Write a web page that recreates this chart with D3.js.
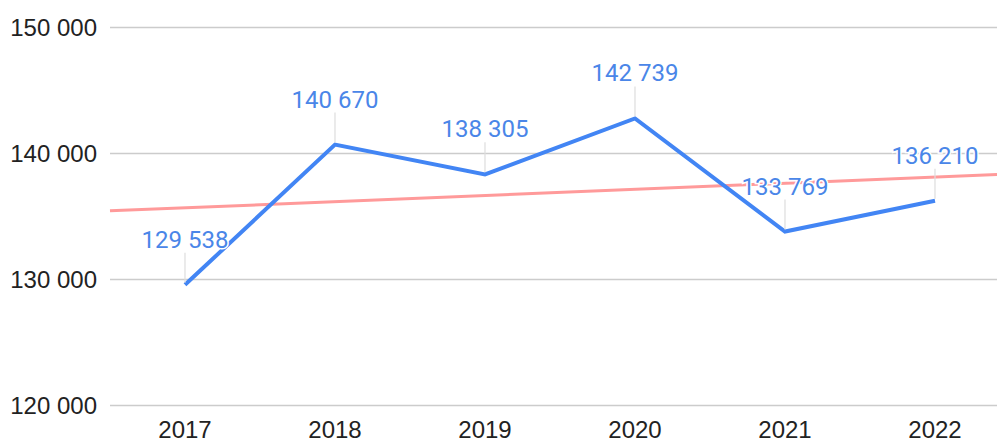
<!DOCTYPE html>
<html>
<head>
<meta charset="utf-8">
<script src="https://cdn.jsdelivr.net/npm/d3@7"></script>
<style>
  html, body { margin: 0; padding: 0; background: #fff; }
  svg { display: block; }
</style>
</head>
<body>
<svg id="chart" width="997" height="439"></svg>
<script>
const years = ["2017", "2018", "2019", "2020", "2021", "2022"];
const values = [129538, 140670, 138305, 142739, 133769, 136210];
const yTicks = [120000, 130000, 140000, 150000];

const W = 997, H = 439;
const svg = d3.select("#chart");

const x = d3.scaleBand().domain(years).range([110, 1010]);
const y = d3.scaleLinear().domain([120000, 150000]).range([405, 27]);
const cx = d => x(d) + x.bandwidth() / 2;

const fmt = v => d3.format(",")(v).replace(/,/g, " ");

// horizontal gridlines + y tick labels
const yAxis = d3.axisLeft(y).tickValues(yTicks).tickSize(0).tickPadding(13).tickFormat(fmt);
const gy = svg.append("g").attr("transform", "translate(110,0)").call(yAxis);
gy.select(".domain").remove();
gy.selectAll("text")
  .attr("font-family", "'Liberation Sans', Arial, sans-serif")
  .attr("font-size", 24).attr("fill", "#222").attr("dy", "0.36em");
gy.selectAll(".tick").append("line")
  .attr("x1", 0).attr("x2", W - 110)
  .attr("stroke", "#cccccc").attr("stroke-width", 1.5);

// x labels
const xAxis = d3.axisBottom(x).tickSize(0).tickPadding(0);
const gx = svg.append("g").attr("transform", "translate(0,405)").call(xAxis);
gx.select(".domain").remove();
gx.selectAll("text")
  .attr("font-family", "'Liberation Sans', Arial, sans-serif")
  .attr("font-size", 24).attr("fill", "#222")
  .attr("dy", null).attr("y", 32.5);

// linear trendline (least squares over category index)
const n = values.length;
const xm = (n - 1) / 2;
const ym = d3.mean(values);
let sxy = 0, sxx = 0;
values.forEach((v, i) => { sxy += (i - xm) * (v - ym); sxx += (i - xm) * (i - xm); });
const slope = sxy / sxx;
const icpt = ym - slope * xm;
const step = x.step();
const idxAt = px => (px - cx(years[0])) / step;
const trendX = [110, W];
svg.append("line")
  .attr("x1", trendX[0]).attr("x2", trendX[1])
  .attr("y1", y(icpt + slope * idxAt(trendX[0])))
  .attr("y2", y(icpt + slope * idxAt(trendX[1])))
  .attr("stroke", "#ff9a9a").attr("stroke-width", 3);

// main series line
const line = d3.line().x((d, i) => cx(years[i])).y(d => y(d));
svg.append("path").datum(values)
  .attr("d", line).attr("fill", "none")
  .attr("stroke", "#4285f4").attr("stroke-width", 4)
  .attr("stroke-linejoin", "miter");

// leader lines
svg.append("g").selectAll("line").data(values).join("line")
  .attr("x1", (d, i) => cx(years[i])).attr("x2", (d, i) => cx(years[i]))
  .attr("y1", d => y(d) - 32).attr("y2", d => y(d) - 2)
  .attr("stroke", "#dddddd").attr("stroke-width", 1.2);

// value labels with white halo
svg.append("g").selectAll("text").data(values).join("text")
  .attr("x", (d, i) => cx(years[i]))
  .attr("y", d => y(d) - 37)
  .attr("text-anchor", "middle")
  .attr("font-family", "Roboto, sans-serif")
  .attr("font-size", 24)
  .attr("fill", "#4a86e8")
  .attr("stroke", "#fff").attr("stroke-width", 3)
  .attr("paint-order", "stroke")
  .text(d => fmt(d));
</script>
</body>
</html>
